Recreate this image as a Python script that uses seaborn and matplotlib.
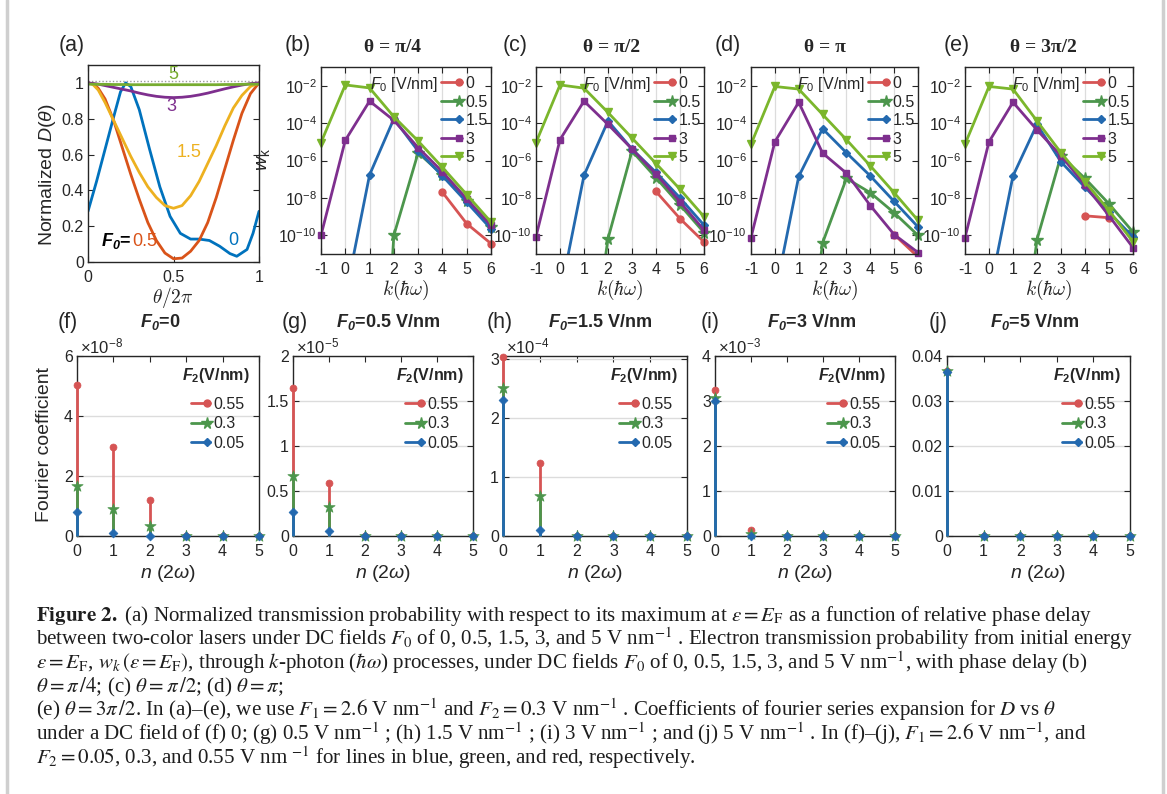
import numpy as np
import pandas as pd
import matplotlib
matplotlib.use("Agg")
import matplotlib.pyplot as plt
import seaborn as sns
from matplotlib.lines import Line2D
from matplotlib.legend_handler import HandlerLine2D
from matplotlib.ticker import FixedLocator, FuncFormatter, NullLocator, LogFormatterSciNotation

nan = np.nan

# ---------------- (a) normalized D(theta) ----------------
theta_f0_0 = [0, 0.05, 0.10, 0.15, 0.19, 0.22, 0.25, 0.30, 0.36, 0.42, 0.48, 0.54,
              0.60, 0.65, 0.71, 0.77, 0.83, 0.87, 0.93, 0.965, 1.0]
D_f0_0 = [0.283, 0.45, 0.63, 0.81, 0.95, 1.0, 0.98, 0.85, 0.63, 0.42, 0.255, 0.16,
          0.128, 0.128, 0.12, 0.088, 0.047, 0.032, 0.07, 0.16, 0.283]
theta_grid = [0, 0.03, 0.06, 0.10, 0.15, 0.20, 0.25, 0.30, 0.35, 0.40, 0.45, 0.50,
              0.55, 0.60, 0.65, 0.70, 0.75, 0.80, 0.85, 0.90, 0.95, 1.0]
D_f0_05 = [1.0, 0.995, 0.97, 0.91, 0.79, 0.64, 0.49, 0.35, 0.22, 0.12, 0.05, 0.018,
           0.022, 0.06, 0.12, 0.22, 0.36, 0.52, 0.68, 0.83, 0.94, 1.0]
D_f0_15 = [1.0, 0.99, 0.96, 0.89, 0.79, 0.69, 0.59, 0.50, 0.42, 0.36, 0.315, 0.30,
           0.315, 0.37, 0.45, 0.55, 0.65, 0.76, 0.86, 0.93, 0.98, 1.0]
D_f0_3 = [1.0, 0.997, 0.993, 0.985, 0.975, 0.965, 0.955, 0.943, 0.933, 0.925, 0.92, 0.918,
          0.92, 0.925, 0.933, 0.943, 0.955, 0.967, 0.978, 0.988, 0.996, 1.0]
D_f0_5 = [0.993, 0.993, 0.992, 0.992, 0.991, 0.991, 0.99, 0.99, 0.99, 0.99, 0.99, 0.99,
          0.99, 0.99, 0.99, 0.99, 0.99, 0.991, 0.991, 0.992, 0.993, 0.993]

# ---------------- (b)-(e) w_k vs k ----------------
k_vals = [-1, 0, 1, 2, 3, 4, 5, 6]
F0_labels = ["0", "0.5", "1.5", "3", "5"]

wb_F0_0 = [nan, nan, nan, nan, nan, 2.0e-8, 4.2e-10, 3.6e-11]
wb_F0_05 = [nan, nan, 1e-31, 1.0e-10, 2.6e-6, 1.7e-7, 7.2e-9, 2.8e-10]
wb_F0_15 = [nan, 5e-14, 1.7e-7, 1.7e-4, 3.2e-6, 1.5e-7, 5.9e-9, 2.2e-10]
wb_F0_3 = [1.0e-10, 1.2e-5, 1.5e-3, 1.4e-4, 4.9e-6, 2.5e-7, 8.9e-9, 3.4e-10]
wb_F0_5 = [9.1e-6, 1.1e-2, 7.6e-3, 2.2e-4, 1.1e-5, 4.3e-7, 1.5e-8, 5.1e-10]

wc_F0_0 = [nan, nan, nan, nan, nan, 2.2e-8, 7.8e-10, 4.4e-11]
wc_F0_05 = [nan, nan, 6e-20, 6.6e-11, 3.2e-6, 1.2e-7, 4.2e-9, 1.4e-10]
wc_F0_15 = [nan, 6e-14, 1.6e-7, 1.3e-4, 4.1e-6, 2.3e-7, 1.0e-8, 3.5e-10]
wc_F0_3 = [8.5e-11, 1.3e-5, 1.5e-3, 8.5e-5, 4.1e-6, 1.9e-7, 6.2e-9, 1.9e-10]
wc_F0_5 = [9.1e-6, 1.1e-2, 7.4e-3, 3.7e-4, 1.6e-5, 6.9e-7, 2.9e-8, 1.0e-9]

wd_F0_0 = [nan, nan, nan, nan, nan, nan, 1.1e-10, 7e-12]
wd_F0_05 = [nan, nan, 4e-21, 3.9e-11, 1.1e-7, 1.9e-8, 1.6e-9, 1.0e-10]
wd_F0_15 = [nan, 6e-14, 1.4e-7, 5.0e-5, 2.6e-6, 1.5e-7, 6.5e-9, 2.8e-10]
wd_F0_3 = [7.6e-11, 1.0e-5, 1.3e-3, 2.5e-6, 2.1e-7, 3.9e-9, 1.1e-10, 1.2e-11]
wd_F0_5 = [7.4e-6, 9.1e-3, 6.6e-3, 2.9e-4, 1.3e-5, 5.2e-7, 1.9e-8, 6.3e-10]

we_F0_0 = [nan, nan, nan, nan, nan, 1.1e-9, 8.7e-10, nan]
we_F0_05 = [nan, nan, 1e-20, 5.9e-11, 1.8e-6, 1.1e-7, 4.8e-9, 1.5e-10]
we_F0_15 = [nan, 6e-14, 1.5e-7, 8.5e-5, 8.5e-7, 3.7e-8, 1.7e-9, 8.1e-11]
we_F0_3 = [7.6e-11, 1.0e-5, 1.3e-3, 4.3e-5, 1.8e-6, 4.9e-8, 1.1e-9, 2.2e-11]
we_F0_5 = [7.4e-6, 9.1e-3, 6.6e-3, 1.3e-4, 2.6e-6, 7.4e-8, 2.1e-9, 4.5e-11]

# ---------------- (f)-(j) Fourier coefficients ----------------
n_vals = [0, 1, 2, 3, 4, 5]
F2_labels = ["0.55", "0.3", "0.05"]
scale_f, scale_g, scale_h, scale_i, scale_j = 1e-8, 1e-5, 1e-4, 1e-3, 1.0
f_055 = [5.05, 2.98, 1.19, 0, 0, 0]
f_03 = [1.67, 0.91, 0.33, 0, 0, 0]
f_005 = [0.81, 0.11, 0.0, 0, 0, 0]
g_055 = [1.64, 0.584, 0, 0, 0, 0]
g_03 = [0.664, 0.321, 0, 0, 0, 0]
g_005 = [0.266, 0.055, 0, 0, 0, 0]
h_055 = [3.03, 1.24, 0, 0, 0, 0]
h_03 = [2.50, 0.67, 0, 0, 0, 0]
h_005 = [2.30, 0.11, 0, 0, 0, 0]
i_055 = [3.25, 0.126, 0, 0, 0, 0]
i_03 = [3.07, 0.05, 0, 0, 0, 0]
i_005 = [3.00, 0.01, 0, 0, 0, 0]
j_055 = [0.0367, 0, 0, 0, 0, 0]
j_03 = [0.0366, 0, 0, 0, 0, 0]
j_005 = [0.0365, 0, 0, 0, 0, 0]

# ---------------- styling ----------------
W, H = 1167, 794
sns.set_theme(style="ticks")
plt.rcParams["font.family"] = ["Liberation Sans", "DejaVu Sans"]
plt.rcParams["mathtext.fontset"] = "custom"
plt.rcParams["mathtext.rm"] = "Liberation Sans"
plt.rcParams["mathtext.it"] = "Liberation Sans:italic"
plt.rcParams["mathtext.bf"] = "Liberation Sans:bold"
try:
    plt.rcParams["mathtext.bfit"] = "Liberation Sans:italic:bold"
except Exception:
    pass
plt.rcParams["axes.facecolor"] = "white"

INK = "#262626"
TICK_FS = 11.5
LEG_FS = 11.5
LAB_FS = 14
PLAB_FS = 15.5
C_RED, C_GRN, C_BLU, C_PUR, C_LGR = "#D65454", "#4C964C", "#2369AF", "#7E2F8E", "#7BB62C"
A_BLU, A_RED, A_YEL, A_PUR, A_GRN = "#0072BD", "#D95319", "#EDB120", "#7E2F8E", "#77AC30"

fig = plt.figure(figsize=(W / 100, H / 100), dpi=100)
fig.patch.set_facecolor("white")


def P(x, y):
    return (x / W, 1 - y / H)


def add_ax(l, t, r, b):
    return fig.add_axes([l / W, 1 - b / H, (r - l) / W, (b - t) / H])


def style_ax(ax):
    for s in ax.spines.values():
        s.set_visible(True)
        s.set_color(INK)
        s.set_linewidth(1.0)
    ax.tick_params(direction="in", top=True, right=True, length=4, width=0.8,
                   labelsize=TICK_FS, colors=INK, pad=3)
    ax.tick_params(axis="x", pad=6)
    ax.set_xlabel("")
    ax.set_ylabel("")


class RightMarker(HandlerLine2D):
    def create_artists(self, legend, orig_handle, xdescent, ydescent, width, height,
                       fontsize, trans):
        y = (height - ydescent) / 2
        x0, x1 = -xdescent, -xdescent + width
        line = Line2D([x0, x1], [y, y])
        self.update_prop(line, orig_handle, legend)
        line.set_marker("None")
        mk = Line2D([x0 + 0.85 * width], [y])
        self.update_prop(mk, orig_handle, legend)
        mk.set_linestyle("None")
        line.set_transform(trans)
        mk.set_transform(trans)
        return [line, mk]


def ftext(x, y, s, **kw):
    kw.setdefault("ha", "center")
    kw.setdefault("va", "center")
    kw.setdefault("color", INK)
    return fig.text(x / W, 1 - y / H, s, **kw)


# ---------------- panel (a) ----------------
ax = add_ax(88, 65, 259, 262)
ax.axhline(1.01, color="#9a9a9a", ls=(0, (1, 1.5)), lw=1.0, zorder=1)
a_series = [(theta_f0_0, D_f0_0, A_BLU), (theta_grid, D_f0_05, A_RED),
            (theta_grid, D_f0_15, A_YEL), (theta_grid, D_f0_3, A_PUR),
            (theta_grid, D_f0_5, A_GRN)]
for xs, ys, c in a_series:
    sns.lineplot(x=xs, y=ys, ax=ax, color=c, linewidth=2.0, estimator=None,
                 sort=False, legend=False)
ax.set_xlim(0, 1)
ax.set_ylim(0, 1.1)
ax.xaxis.set_major_locator(FixedLocator([0, 0.5, 1]))
ax.set_xticklabels(["0", "0.5", "1"])
ax.yaxis.set_major_locator(FixedLocator([0, 0.2, 0.4, 0.6, 0.8, 1.0]))
ax.set_yticklabels(["0", "0.2", "0.4", "0.6", "0.8", "1"])
style_ax(ax)
lab_kw = dict(ha="center", va="center", fontsize=13)
ax.text(0.497, 1.047, "5", color=A_GRN, **lab_kw)
ax.text(0.49, 0.866, "3", color=A_PUR, **lab_kw)
ax.text(0.59, 0.613, "1.5", color=A_YEL, **lab_kw)
ax.text(0.848, 0.121, "0", color=A_BLU, **lab_kw)
ax.text(0.255, 0.115, r"$\mathbfit{F}_{\mathbfit{0}}$=", color="black",
        weight="bold", ha="right", va="center", fontsize=13)
ax.text(0.257, 0.115, "0.5", color=A_RED, ha="left", va="center", fontsize=13)
ftext(72, 45, "(a)", fontsize=PLAB_FS)
ftext(48, 175, r"Normalized $D(\theta)$", rotation=90, fontsize=LAB_FS)
ftext(173, 297, r"$\theta/2\pi$", fontsize=LAB_FS, math_fontfamily="cm")

# ---------------- panels (b)-(e) ----------------
top_series = [(C_RED, "o", 5), (C_GRN, "*", 8.5), (C_BLU, "D", 4.5),
              (C_PUR, "s", 5), (C_LGR, "v", 6)]
top_panels = [
    (321, 491, "(b)", 298, "θ = π/4", 392, [wb_F0_0, wb_F0_05, wb_F0_15, wb_F0_3, wb_F0_5]),
    (536, 704, "(c)", 515, "θ = π/2", 612, [wc_F0_0, wc_F0_05, wc_F0_15, wc_F0_3, wc_F0_5]),
    (751, 918, "(d)", 728, "θ = π", 825, [wd_F0_0, wd_F0_05, wd_F0_15, wd_F0_3, wd_F0_5]),
    (965, 1133, "(e)", 957, "θ = 3π/2", 1043, [we_F0_0, we_F0_05, we_F0_15, we_F0_3, we_F0_5]),
]
YLO, YHI = 1e-11, 1e-1
for idx, (l, r, plab, plx, title, tx, data) in enumerate(top_panels):
    ax = add_ax(l, 67, r, 254)
    ax.set_yscale("log")
    handles = []
    for i, ((c, m, ms), vals) in enumerate(zip(top_series, data)):
        df = pd.DataFrame({"k": k_vals, "w": vals}).dropna()
        sns.lineplot(data=df, x="k", y="w", ax=ax, color=c, linewidth=2.0,
                     estimator=None, sort=False, legend=False, zorder=2 + 0.1 * i)
        inr = df[(df.w >= YLO * 0.999) & (df.w <= YHI)]
        ax.plot(inr.k, inr.w, ls="none", marker=m, ms=ms, color=c, mec=c,
                clip_on=False, zorder=2.05 + 0.1 * i)
        handles.append(Line2D([], [], color=c, lw=2.0, marker=m, ms=ms, mec=c))
    ax.set_xlim(-1, 6)
    ax.set_ylim(YLO, YHI)
    ax.xaxis.set_major_locator(FixedLocator(k_vals))
    ax.set_xticklabels([str(v) for v in k_vals])
    ax.yaxis.set_major_locator(FixedLocator([1e-10, 1e-8, 1e-6, 1e-4, 1e-2]))
    ax.yaxis.set_major_formatter(LogFormatterSciNotation())
    ax.yaxis.set_minor_locator(NullLocator())
    ax.xaxis.grid(True, color="#dcdcdc", lw=0.9)
    ax.yaxis.grid(False)
    ax.set_axisbelow(True)
    style_ax(ax)
    ax.legend(handles, F0_labels, loc="upper left", bbox_to_anchor=P(r - 50, 76),
              bbox_transform=fig.transFigure, frameon=False, borderpad=0,
              borderaxespad=0, handlelength=1.3, handletextpad=0.25,
              labelspacing=0.22, fontsize=LEG_FS,
              handler_map={Line2D: RightMarker()})
    ftext(r - 53, 84, r"$F_0$ [V/nm]", ha="right", fontsize=LEG_FS)
    ftext(plx, 45, plab, fontsize=PLAB_FS)
    ftext(tx, 47, title, fontsize=14, weight="bold",
          family=["Liberation Serif", "DejaVu Serif"])
    ftext((l + r) / 2, 290, r"$k(\hbar\omega)$", fontsize=14, math_fontfamily="cm")
    if idx == 0:
        ftext(264, 160, r"$w_{\mathrm{k}}$", rotation=90, fontsize=LAB_FS)

# ---------------- panels (f)-(j) ----------------
bot_series = [(C_RED, "o", 5), (C_GRN, "*", 8.5), (C_BLU, "D", 4.5)]
bot_panels = [
    (77, 259, "(f)", 68, r"$\mathbfit{F}_{\mathbfit{0}}$=0", 160, scale_f,
     [f_055, f_03, f_005], [0, 2, 4, 6], 6, r"$\times10^{-8}$"),
    (293, 473, "(g)", 295, r"$\mathbfit{F}_{\mathbfit{0}}$=0.5 V/nm", 388, scale_g,
     [g_055, g_03, g_005], [0, 0.5, 1, 1.5, 2], 2, r"$\times10^{-5}$"),
    (503, 687, "(h)", 500, r"$\mathbfit{F}_{\mathbfit{0}}$=1.5 V/nm", 600, scale_h,
     [h_055, h_03, h_005], [0, 1, 2, 3], 3.05, r"$\times10^{-4}$"),
    (715, 895, "(i)", 710, r"$\mathbfit{F}_{\mathbfit{0}}$=3 V/nm", 812, scale_i,
     [i_055, i_03, i_005], [0, 1, 2, 3, 4], 4, r"$\times10^{-3}$"),
    (947, 1130, "(j)", 938, r"$\mathbfit{F}_{\mathbfit{0}}$=5 V/nm", 1035, scale_j,
     [j_055, j_03, j_005], [0, 0.01, 0.02, 0.03, 0.04], 0.04, None),
]
for idx, (l, r, plab, plx, title, tx, sc, data, yt, ytop, off) in enumerate(bot_panels):
    ax = add_ax(l, 356, r, 536)
    handles = []
    for i, ((c, m, ms), vals) in enumerate(zip(bot_series, data)):
        yv = np.asarray(vals, float) * sc
        ax.vlines(n_vals, 0, yv, color=c, lw=2.0, zorder=3 + 0.1 * i, clip_on=False)
        sns.scatterplot(x=n_vals, y=yv, ax=ax, marker=m, s=(ms * 1.0) ** 2, color=c,
                        edgecolor=c, linewidth=0.5, zorder=3.05 + 0.1 * i,
                        clip_on=False, legend=False)
        handles.append(Line2D([], [], color=c, lw=2.0, marker=m, ms=ms, mec=c))
    ax.set_xlim(0, 5)
    ax.set_ylim(0, ytop * sc)
    ax.xaxis.set_major_locator(FixedLocator(n_vals))
    ax.set_xticklabels([str(v) for v in n_vals])
    ax.yaxis.set_major_locator(FixedLocator([v * sc for v in yt]))
    ax.yaxis.set_major_formatter(FuncFormatter(lambda v, p, s=sc: f"{v / s:g}"))
    ax.yaxis.grid(True, color="#dcdcdc", lw=1.0)
    ax.xaxis.grid(False)
    ax.set_axisbelow(True)
    style_ax(ax)
    if off:
        ax.text(0.015, 1.0, off, transform=ax.transAxes, ha="left", va="bottom",
                fontsize=12, color=INK)
    ax.legend(handles, F2_labels, loc="upper left", bbox_to_anchor=P(r - 68, 397),
              bbox_transform=fig.transFigure, frameon=False, borderpad=0,
              borderaxespad=0, handlelength=1.2, handletextpad=0.2,
              labelspacing=0.28, fontsize=LEG_FS,
              handler_map={Line2D: RightMarker()})
    ftext(r - 9, 376, r"$\mathbfit{F}_{\mathbf{2}}$(V/nm)", ha="right",
          fontsize=11.5, weight="bold")
    ftext(plx, 322, plab, fontsize=PLAB_FS)
    ftext(tx, 322, title, fontsize=13, weight="bold")
    ftext((l + r) / 2, 573, r"$n$ (2$\omega$)", fontsize=LAB_FS)
    if idx == 0:
        ftext(45, 444, "Fourier coefficient", rotation=90, fontsize=LAB_FS)

# ---------------- caption ----------------
cap_lines = [
    r"$\mathbf{Figure\ 2.}$ (a) Normalized transmission probability with respect to its maximum at $\varepsilon = E_\mathrm{F}$ as a function of relative phase delay",
    r"between two-color lasers under DC fields $F_0$ of 0, 0.5, 1.5, 3, and 5 V nm$^{-1}$ . Electron transmission probability from initial energy",
    r"$\varepsilon = E_\mathrm{F}$, $w_k\,(\varepsilon = E_\mathrm{F})$, through $k$-photon ($\hbar\omega$) processes, under DC fields $F_0$ of 0, 0.5, 1.5, 3, and 5 V nm$^{-1}$, with phase delay (b)",
    r"$\theta = \pi\,/4$; (c) $\theta = \pi\,/2$; (d) $\theta = \pi$;",
    r"(e) $\theta = 3\pi\,/2$. In (a)–(e), we use $F_1 = 2.6$ V nm$^{-1}$ and $F_2 = 0.3$ V nm$^{-1}$ . Coefficients of fourier series expansion for $D$ vs $\theta$",
    r"under a DC field of (f) 0; (g) 0.5 V nm$^{-1}$ ; (h) 1.5 V nm$^{-1}$ ; (i) 3 V nm$^{-1}$ ; and (j) 5 V nm$^{-1}$ . In (f)–(j), $F_1 = 2.6$ V nm$^{-1}$, and",
    r"$F_2 = 0.05$, 0.3, and 0.55 V nm $^{-1}$ for lines in blue, green, and red, respectively.",
]
cap_base = [621, 645, 669, 692, 716, 740, 764]
cap_texts = []
for s, yb in zip(cap_lines, cap_base):
    t = fig.text(36 / W, 1 - yb / H, s, fontsize=14, ha="left", va="baseline",
                 family=["Liberation Serif", "DejaVu Serif"], math_fontfamily="stix",
                 color="#1e1e1e")
    cap_texts.append(t)
rend = fig.canvas.get_renderer()
w0 = cap_texts[0].get_window_extent(rend).width
fs = 14 * (1098 - 36) / w0
for t in cap_texts:
    t.set_fontsize(fs)

# light grey frame lines at the sides
for xb in (7, 1163):
    fig.add_artist(Line2D([xb / W, xb / W], [0, 1], transform=fig.transFigure,
                          color="#cfcfcf", lw=2.5))

fig.savefig("out.png", dpi=100, facecolor="white")
